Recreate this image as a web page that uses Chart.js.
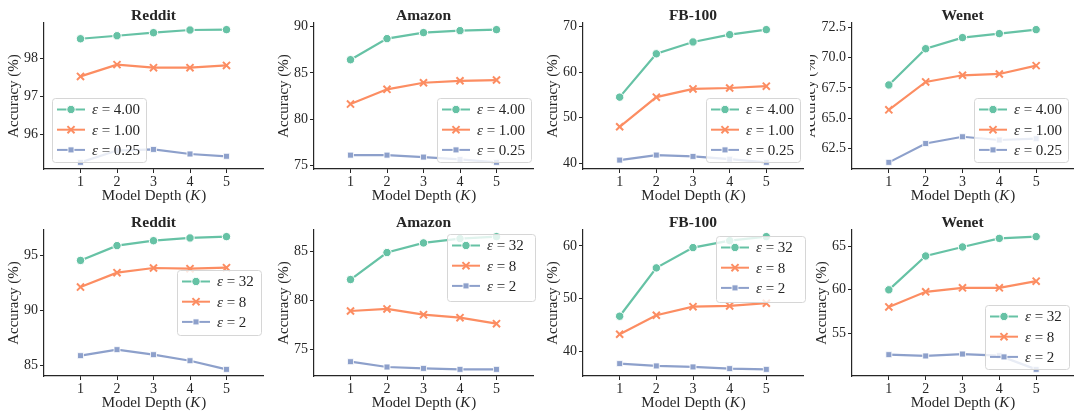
<!DOCTYPE html>
<html><head><meta charset="utf-8">
<script src="https://cdn.jsdelivr.net/npm/chart.js@4.4.0/dist/chart.umd.min.js"></script>
<style>
html,body{margin:0;padding:0;background:#fff;}
#wrap{position:relative;width:1080px;height:415px;overflow:hidden;}
canvas{position:absolute;}
</style></head><body><div id="wrap"></div>
<script>
// ---------- data ----------
const depths = [1, 2, 3, 4, 5];
const titles = ['Reddit', 'Amazon', 'FB-100', 'Wenet', 'Reddit', 'Amazon', 'FB-100', 'Wenet'];
const epsTop = ['4.00', '1.00', '0.25'];
const epsBottom = ['32', '8', '2'];
const xLabel = 'Model Depth (';
const xLabelVar = 'K';
const yLabel = 'Accuracy (%)';

// top row: epsilon = 4.00, 1.00, 0.25
const redditTopE4   = [98.51, 98.59, 98.67, 98.74, 98.75];
const redditTopE1   = [97.52, 97.83, 97.75, 97.75, 97.81];
const redditTopE025 = [95.26, 95.57, 95.60, 95.48, 95.42];
const amazonTopE4   = [86.43, 88.70, 89.35, 89.56, 89.67];
const amazonTopE1   = [81.65, 83.24, 83.95, 84.16, 84.24];
const amazonTopE025 = [76.15, 76.15, 75.94, 75.69, 75.37];
const fbTopE4       = [54.5, 64.0, 66.6, 68.2, 69.3];
const fbTopE1       = [48.0, 54.5, 56.3, 56.5, 56.9];
const fbTopE025     = [40.7, 41.8, 41.5, 40.9, 40.2];
const wenetTopE4    = [67.75, 70.75, 71.67, 72.00, 72.33];
const wenetTopE1    = [65.69, 68.00, 68.55, 68.66, 69.35];
const wenetTopE025  = [61.34, 62.90, 63.46, 63.19, 63.30];

// bottom row: epsilon = 32, 8, 2
const redditBotE32 = [94.57, 95.92, 96.37, 96.62, 96.74];
const redditBotE8  = [92.14, 93.45, 93.88, 93.82, 93.91];
const redditBotE2  = [85.88, 86.43, 85.97, 85.42, 84.63];
const amazonBotE32 = [82.11, 84.86, 85.84, 86.28, 86.48];
const amazonBotE8  = [78.91, 79.12, 78.54, 78.23, 77.62];
const amazonBotE2  = [73.75, 73.21, 73.07, 72.97, 72.97];
const fbBotE32     = [46.66, 55.83, 59.68, 61.00, 61.76];
const fbBotE8      = [43.24, 46.85, 48.48, 48.61, 49.13];
const fbBotE2      = [37.67, 37.23, 37.04, 36.72, 36.58];
const wenetBotE32  = [60.00, 63.86, 64.89, 65.87, 66.07];
const wenetBotE8   = [58.05, 59.77, 60.23, 60.23, 60.99];
const wenetBotE2   = [52.60, 52.45, 52.67, 52.48, 50.92];

// y tick values
const redditTopTicks = [96, 97, 98];
const amazonTopTicks = [75, 80, 85, 90];
const fbTopTicks     = [40, 50, 60, 70];
const wenetTopTicks  = [62.5, 65, 67.5, 70, 72.5];
const redditBotTicks = [85, 90, 95];
const amazonBotTicks = [75, 80, 85];
const fbBotTicks     = [40, 50, 60];
const wenetBotTicks  = [55, 60, 65];
const xTicks = [1, 2, 3, 4, 5];

// ---------- styling / layout ----------
const colors = ['#66c2a5', '#fc8d62', '#8da0cb'];
const markers = [
  {style: 'circle', radius: 4.2, border: '#ffffff', bw: 1},
  {style: 'crossRot', radius: 5, border: null, bw: 2},
  {style: 'rect', radius: 4.2, border: '#ffffff', bw: 0.8}
];
const FONT = "'Liberation Serif', 'DejaVu Serif', serif";
const INK = '#262626';

const panels = [
  {series: [redditTopE4, redditTopE1, redditTopE025], eps: epsTop, ticks: redditTopTicks, left: 44, legend: {x: 52, y: 98, w: 94, h: 64}},
  {series: [amazonTopE4, amazonTopE1, amazonTopE025], eps: epsTop, ticks: amazonTopTicks, left: 44, legend: {x: 167, y: 98, w: 94, h: 64}},
  {series: [fbTopE4, fbTopE1, fbTopE025], eps: epsTop, ticks: fbTopTicks, left: 43, legend: {x: 166, y: 98, w: 94, h: 64}},
  {series: [wenetTopE4, wenetTopE1, wenetTopE025], eps: epsTop, ticks: wenetTopTicks, left: 42, legend: {x: 164, y: 98, w: 94, h: 64}},
  {series: [redditBotE32, redditBotE8, redditBotE2], eps: epsBottom, ticks: redditBotTicks, left: 44, legend: {x: 177, y: 63, w: 84, h: 65}},
  {series: [amazonBotE32, amazonBotE8, amazonBotE2], eps: epsBottom, ticks: amazonBotTicks, left: 44, legend: {x: 177, y: 27, w: 88, h: 67}},
  {series: [fbBotE32, fbBotE8, fbBotE2], eps: epsBottom, ticks: fbBotTicks, left: 43, legend: {x: 176, y: 29, w: 89, h: 66}},
  {series: [wenetBotE32, wenetBotE8, wenetBotE2], eps: epsBottom, ticks: wenetBotTicks, left: 42, legend: {x: 175, y: 98, w: 84, h: 64}}
];

function drawMarker(ctx, m, color, x, y) {
  ctx.save();
  ctx.lineWidth = m.bw;
  ctx.fillStyle = color;
  ctx.strokeStyle = m.border || color;
  ctx.beginPath();
  if (m.style === 'circle') {
    ctx.arc(x, y, m.radius, 0, Math.PI * 2);
    ctx.fill(); ctx.stroke();
  } else if (m.style === 'rect') {
    const s = Math.SQRT1_2 * m.radius;
    ctx.rect(x - s, y - s, 2 * s, 2 * s);
    ctx.fill(); ctx.stroke();
  } else {
    const d = m.radius * Math.SQRT1_2;
    ctx.moveTo(x - d, y - d); ctx.lineTo(x + d, y + d);
    ctx.moveTo(x + d, y - d); ctx.lineTo(x - d, y + d);
    ctx.stroke();
  }
  ctx.restore();
}

const textPlugin = {
  id: 'panelText',
  afterDraw(chart, args, opts) {
    const ctx = chart.ctx, ca = chart.chartArea;
    const p = opts.panel;
    ctx.save();
    ctx.fillStyle = INK;
    // title
    ctx.font = "bold 15.5px " + FONT;
    ctx.textAlign = 'center';
    ctx.textBaseline = 'alphabetic';
    ctx.fillText(opts.title, (ca.left + ca.right) / 2, 19.5);
    // x label
    ctx.font = "15px " + FONT;
    const w1 = ctx.measureText(xLabel).width;
    ctx.font = "italic 15px " + FONT;
    const w2 = ctx.measureText(xLabelVar).width;
    ctx.font = "15px " + FONT;
    const w3 = ctx.measureText(')').width;
    let x0 = (ca.left + ca.right) / 2 - (w1 + w2 + w3) / 2;
    ctx.textAlign = 'left';
    ctx.fillText(xLabel, x0, 200);
    ctx.font = "italic 15px " + FONT;
    ctx.fillText(xLabelVar, x0 + w1, 200);
    ctx.font = "15px " + FONT;
    ctx.fillText(')', x0 + w1 + w2 + 1, 200);
    // y label
    ctx.font = "14px " + FONT;
    const tw = Math.max(...p.ticks.map(v => ctx.measureText(opts.fmt(v)).width));
    const yx = ca.left - 7 - tw - 9;
    ctx.font = "15px " + FONT;
    ctx.translate(yx, (ca.top + ca.bottom) / 2);
    ctx.rotate(-Math.PI / 2);
    ctx.textAlign = 'center';
    ctx.textBaseline = 'middle';
    ctx.fillText(yLabel, 0, 0);
    ctx.restore();

    // legend
    const L = p.legend;
    ctx.save();
    ctx.beginPath();
    ctx.roundRect(L.x + 0.5, L.y + 0.5, L.w, L.h, 3);
    ctx.fillStyle = 'rgba(255,255,255,0.8)';
    ctx.fill();
    ctx.strokeStyle = '#d6d6d6';
    ctx.lineWidth = 1;
    ctx.stroke();
    for (let i = 0; i < 3; i++) {
      const cy = L.y + 11.5 + i * 20.2;
      ctx.strokeStyle = colors[i];
      ctx.lineWidth = 2;
      ctx.beginPath();
      ctx.moveTo(L.x + 5, cy); ctx.lineTo(L.x + 33, cy);
      ctx.stroke();
      drawMarker(ctx, markers[i], colors[i], L.x + 19, cy);
      ctx.fillStyle = INK;
      ctx.textBaseline = 'middle';
      ctx.textAlign = 'left';
      ctx.font = "italic 15px " + FONT;
      const tx = L.x + 40;
      ctx.fillText('\u03b5', tx, cy + 1);
      const ew = ctx.measureText('\u03b5').width;
      ctx.font = "15px " + FONT;
      ctx.fillText(' = ' + p.eps[i], tx + ew, cy + 1);
    }
    ctx.restore();
  }
};

const wrap = document.getElementById('wrap');
panels.forEach((p, idx) => {
  const row = Math.floor(idx / 4), col = idx % 4;
  const H = row === 0 ? 207 : 208;
  const cv = document.createElement('canvas');
  cv.width = 270; cv.height = H;
  cv.style.left = (col * 270) + 'px';
  cv.style.top = (row * 207) + 'px';
  cv.style.width = '270px'; cv.style.height = H + 'px';
  wrap.appendChild(cv);

  const all = p.series.flat();
  const mn = Math.min(...all), mx = Math.max(...all);
  const margin = (mx - mn) * 0.05;
  const decimals = p.ticks.some(v => !Number.isInteger(v)) ? 1 : 0;
  const fmt = v => Number(v).toFixed(decimals);

  const datasets = p.series.map((vals, i) => ({
    label: '\u03b5 = ' + p.eps[i],
    data: depths.map((k, j) => ({x: k, y: vals[j]})),
    borderColor: colors[i],
    backgroundColor: colors[i],
    borderWidth: 2.2,
    pointStyle: markers[i].style,
    pointRadius: markers[i].radius,
    pointHoverRadius: markers[i].radius,
    pointBackgroundColor: colors[i],
    pointBorderColor: markers[i].border || colors[i],
    pointBorderWidth: markers[i].bw,
    tension: 0,
    clip: false
  }));

  new Chart(cv, {
    type: 'line',
    data: {datasets},
    options: {
      responsive: false,
      animation: false,
      devicePixelRatio: 1,
      layout: {padding: {top: 23, left: 0, bottom: 0, right: 270 - (p.left + 225)}},
      plugins: {
        legend: {display: false},
        title: {display: false},
        tooltip: {enabled: false},
        panelText: {panel: p, title: titles[idx], fmt}
      },
      scales: {
        x: {
          type: 'linear', min: 0, max: 6,
          afterBuildTicks: s => { s.ticks = xTicks.map(v => ({value: v})); },
          afterFit: s => { s.height = H - 169; },
          grid: {drawOnChartArea: false, drawTicks: true, tickLength: 4, tickColor: INK, tickWidth: 1},
          border: {display: true, color: INK, width: 1.2},
          ticks: {color: INK, font: {family: FONT, size: 14}, padding: 1, maxRotation: 0, autoSkip: false, callback: v => String(v)}
        },
        y: {
          type: 'linear', min: mn - margin, max: mx + margin,
          afterBuildTicks: s => { s.ticks = p.ticks.map(v => ({value: v})); },
          afterFit: s => { s.width = p.left; },
          grid: {drawOnChartArea: false, drawTicks: true, tickLength: 4, tickColor: INK, tickWidth: 1},
          border: {display: true, color: INK, width: 1.2},
          ticks: {color: INK, font: {family: FONT, size: 14}, padding: 2, autoSkip: false, callback: v => fmt(v)}
        }
      }
    },
    plugins: [textPlugin]
  });
});
</script>
</body></html>
